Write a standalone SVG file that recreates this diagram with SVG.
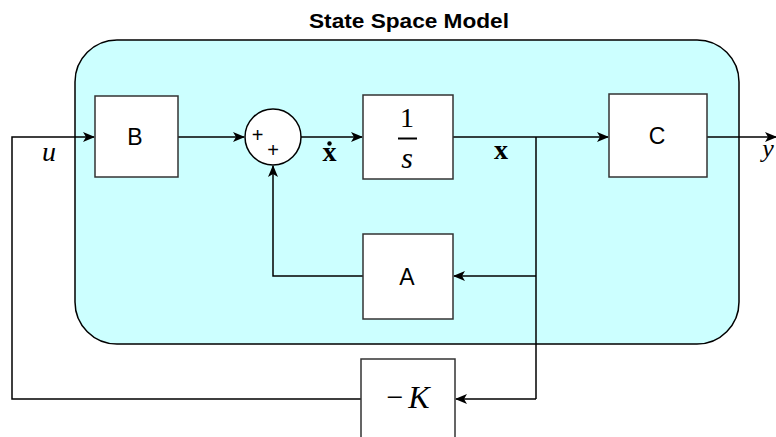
<svg xmlns="http://www.w3.org/2000/svg" width="776" height="437" viewBox="0 0 776 437">
<style>
.blk{fill:#ffffff;stroke:#333333;stroke-width:1.5}
.wire{fill:none;stroke:#000000;stroke-width:1.5}
.lbl{font-family:"Liberation Sans",Arial,sans-serif;font-size:23px;fill:#000;text-anchor:middle}
.math{font-family:"Liberation Serif","DejaVu Serif",serif;fill:#000;text-anchor:middle}
.title{font-family:"Liberation Sans",Arial,sans-serif;font-size:21px;font-weight:bold;fill:#000;text-anchor:middle}
.plus{font-family:"Liberation Sans",Arial,sans-serif;font-size:20px;fill:#000;text-anchor:middle}
</style>
<defs>
<marker id="ah" viewBox="0 0 12 10" refX="11" refY="5" markerWidth="12" markerHeight="10" markerUnits="userSpaceOnUse" orient="auto">
<path d="M0,0 L12,5 L0,10 L3,5 Z" fill="#000"/>
</marker>
</defs>
<g id="container">
<rect x="75" y="40" width="664" height="304" rx="42" ry="42" fill="#ccffff" stroke="#000" stroke-width="1.5"/>
<text class="title" x="409" y="28" textLength="200" lengthAdjust="spacingAndGlyphs">State Space Model</text>
</g>
<g id="connectors">
<path class="wire" d="M178,137 H244" marker-end="url(#ah)"/>
<path class="wire" d="M301,137 H362" marker-end="url(#ah)"/>
<path class="wire" d="M453,137 H608" marker-end="url(#ah)"/>
<path class="wire" d="M707,137 H776" marker-end="url(#ah)"/>
<path class="wire" d="M536,137 V399"/>
<path class="wire" d="M536,276 H454" marker-end="url(#ah)"/>
<path class="wire" d="M363,276 H273 V166" marker-end="url(#ah)"/>
<path class="wire" d="M536,399 H456" marker-end="url(#ah)"/>
<path class="wire" d="M361,399 H12 V137 H94" marker-end="url(#ah)"/>
</g>
<g id="B">
<rect class="blk" x="95" y="96" width="83" height="81"/>
<text class="lbl" x="135" y="145">B</text>
</g>
<g id="sum">
<circle cx="273" cy="137" r="28" fill="#fff" stroke="#000" stroke-width="1.5"/>
<text class="plus" x="257.5" y="142">+</text>
<text class="plus" x="273" y="157">+</text>
</g>
<g id="integrator">
<rect class="blk" x="363" y="95" width="90" height="84"/>
<text class="math" x="407" y="127" style="font-size:28px">1</text>
<line x1="398" y1="138.5" x2="417" y2="138.5" stroke="#000" stroke-width="2"/>
<text class="math" x="407" y="168" style="font-size:30px;font-style:italic">s</text>
</g>
<g id="C">
<rect class="blk" x="609" y="94" width="98" height="83"/>
<text class="lbl" x="657" y="144">C</text>
</g>
<g id="A">
<rect class="blk" x="363" y="234" width="90" height="85"/>
<text class="lbl" x="407" y="285">A</text>
</g>
<g id="K">
<rect class="blk" x="361" y="359" width="94" height="90"/>
<text class="math" x="395" y="407" style="font-size:30px">−</text>
<text class="math" x="419" y="408" style="font-size:32px;font-style:italic">K</text>
</g>
<g id="labels">
<text class="math" x="49" y="161" style="font-size:28px;font-style:italic">u</text>
<text class="math" x="329.5" y="161" style="font-size:28px;font-weight:bold">x</text>
<circle cx="329.5" cy="143.5" r="2.2" fill="#000"/>
<text class="math" x="501" y="159" style="font-size:28px;font-weight:bold">x</text>
<text class="math" x="768" y="157" style="font-size:26px;font-style:italic">y</text>
</g>
</svg>
